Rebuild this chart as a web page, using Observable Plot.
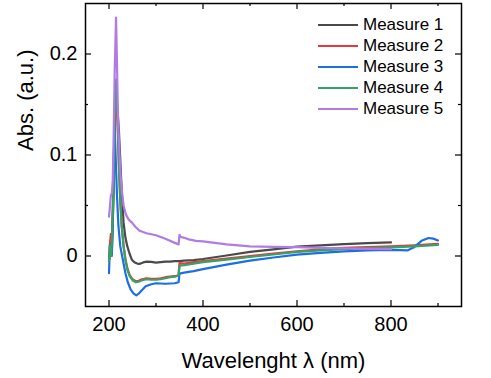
<!DOCTYPE html>
<html><head><meta charset="utf-8">
<script src="https://cdn.jsdelivr.net/npm/d3@7"></script>
<script src="https://cdn.jsdelivr.net/npm/@observablehq/plot@0.6"></script>
<style>
body{margin:0;background:#fff;font-family:"Liberation Sans",Arial,sans-serif;}
#wrap{position:relative;width:491px;height:378px;}
#legend{position:absolute;left:318px;top:14px;font-size:17px;color:#000;}
.row{height:21px;display:flex;align-items:center;white-space:nowrap;}
.sw{width:40px;height:2px;margin-right:5px;}
</style></head><body><div id="wrap"><div id="legend"></div></div>
<script>
const seriesNames = ["Measure 1","Measure 2","Measure 3","Measure 4","Measure 5"];
const seriesColors = ["#4a4a4a","#e8383d","#1c6fe3","#36a266","#b07be6"];

const m1Wl = [200,203,206,209,212,215,218,221,224,227,231,235,239,244,249,255,260,265,270,275,280,290,300,310,320,330,340,350,360,380,400,450,500,550,600,650,700,750,800];
const m1Abs = [-0.004,0.008,0.004,0.05,0.12,0.16,0.145,0.125,0.095,0.065,0.033,0.018,0.0095,0.002,-0.004,-0.0065,-0.0075,-0.0078,-0.007,-0.006,-0.0055,-0.0058,-0.0065,-0.006,-0.0056,-0.0055,-0.005,-0.005,-0.0045,-0.004,-0.003,0.0005,0.004,0.0065,0.0092,0.0106,0.0118,0.0127,0.0134];

const m2Wl = [200,202,204,206,209,212,215,218,221,224,227,231,235,239,244,250,257,263,270,280,290,300,310,320,330,340,348,350,360,380,400,450,500,550,600,650,700,750,800,850,900];
const m2Abs = [-0.003,0.012,0.022,0.012,0.06,0.13,0.165,0.135,0.09,0.055,0.03,0.01,-0.003,-0.012,-0.019,-0.023,-0.025,-0.0245,-0.023,-0.022,-0.0225,-0.0225,-0.022,-0.021,-0.0205,-0.02,-0.019,-0.007,-0.0075,-0.006,-0.005,-0.0025,0.0,0.0025,0.0045,0.0065,0.008,0.0088,0.0095,0.0105,0.012];

const m3Wl = [200,202,204,206,208,210,212,214,217,220,224,230,235,240,246,252,258,264,270,278,290,300,320,340,348,350,360,380,400,450,500,550,600,650,700,750,800,820,835,850,865,880,890,900];
const m3Abs = [-0.017,0.011,0.008,0.0,0.03,0.09,0.13,0.1,0.06,0.03,0.0095,-0.005,-0.017,-0.026,-0.033,-0.037,-0.039,-0.037,-0.034,-0.03,-0.028,-0.027,-0.0275,-0.027,-0.026,-0.0175,-0.0165,-0.015,-0.013,-0.0085,-0.0045,-0.0015,0.0013,0.003,0.0045,0.0055,0.006,0.0058,0.0055,0.009,0.015,0.0178,0.0172,0.0154];

const m4Wl = [200,202,204,206,209,212,215,218,221,224,227,231,235,239,244,250,257,263,270,280,290,300,310,320,330,340,348,350,360,380,400,450,500,550,600,650,700,750,800,850,900];
const m4Abs = [-0.005,0.01,0.0,0.012,0.06,0.14,0.175,0.14,0.092,0.055,0.03,0.0095,-0.004,-0.0135,-0.02,-0.024,-0.026,-0.0255,-0.024,-0.023,-0.0235,-0.0234,-0.023,-0.022,-0.021,-0.0205,-0.0195,-0.0096,-0.009,-0.0075,-0.006,-0.0035,-0.001,0.0015,0.004,0.0055,0.0068,0.0078,0.0085,0.0095,0.011];

const m5Wl = [200,202,204,206,208,210,212,215,217,219,221,224,227,231,236,242,249,256,265,280,300,320,340,348,350,352,360,370,385,400,425,450,475,500,550,600,650,700,750,800];
const m5Abs = [0.039,0.049,0.06,0.062,0.075,0.12,0.18,0.236,0.19,0.14,0.115,0.085,0.066,0.05,0.041,0.036,0.033,0.029,0.025,0.0225,0.0205,0.017,0.013,0.0115,0.021,0.019,0.018,0.0165,0.015,0.0145,0.013,0.0115,0.0105,0.0095,0.009,0.0088,0.008,0.0075,0.007,0.0068];

const xMajor = [200,400,600,800];
const xMinor = [300,500,700,900];
const yMajor = [0,0.1,0.2];
const yMinor = [0.05,0.15];
const xLabel = "Wavelenght λ (nm)";
const yLabel = "Abs. (a.u.)";

const wls = [m1Wl,m2Wl,m3Wl,m4Wl,m5Wl];
const abss = [m1Abs,m2Abs,m3Abs,m4Abs,m5Abs];

const W = 491, H = 378, mL = 85, mR = 30, mT = 3, mB = 72;
const fw = W - mL - mR, fh = H - mT - mB;

const lineMarks = seriesNames.map((name, i) =>
  Plot.line(wls[i].map((x, j) => ({x, y: abss[i][j]})), {x: "x", y: "y", stroke: seriesColors[i], strokeWidth: 2.2})
);

const plot = Plot.plot({
  width: W, height: H,
  marginLeft: mL, marginRight: mR, marginTop: mT, marginBottom: mB,
  style: {fontFamily: "Liberation Sans, Arial, sans-serif", fontSize: "20px", color: "#000", background: "#fff", overflow: "visible"},
  x: {domain: [150, 950]},
  y: {domain: [-0.05, 0.25]},
  marks: [
    ...lineMarks,
    Plot.tickX(xMajor, {x: d => d, stroke: "#000", strokeWidth: 1.2, insetTop: fh - 6}),
    Plot.tickX(xMinor, {x: d => d, stroke: "#000", strokeWidth: 1.2, insetTop: fh - 3}),
    Plot.tickX(xMajor, {x: d => d, stroke: "#000", strokeWidth: 1.2, insetBottom: fh - 6}),
    Plot.tickX(xMinor, {x: d => d, stroke: "#000", strokeWidth: 1.2, insetBottom: fh - 3}),
    Plot.tickY(yMajor, {y: d => d, stroke: "#000", strokeWidth: 1.2, insetRight: fw - 6}),
    Plot.tickY(yMinor, {y: d => d, stroke: "#000", strokeWidth: 1.2, insetRight: fw - 3}),
    Plot.tickY(yMajor, {y: d => d, stroke: "#000", strokeWidth: 1.2, insetLeft: fw - 6}),
    Plot.tickY(yMinor, {y: d => d, stroke: "#000", strokeWidth: 1.2, insetLeft: fw - 3}),
    Plot.axisX(xMajor, {tickSize: 0, tickPadding: 10, label: null, fontSize: 20}),
    Plot.axisY(yMajor, {tickSize: 0, tickPadding: 8, label: null, fontSize: 20, tickFormat: d => d === 0 ? "0" : String(d)}),
    Plot.frame({stroke: "#000", strokeWidth: 1.5}),
    Plot.text([xLabel], {frameAnchor: "bottom", lineAnchor: "bottom", dy: 61, fontSize: 22}),
    Plot.text([yLabel], {frameAnchor: "left", rotate: -90, dx: -60, dy: -4, fontSize: 22})
  ]
});
document.getElementById("wrap").prepend(plot);

const legend = document.getElementById("legend");
seriesNames.forEach((name, i) => {
  const row = document.createElement("div");
  row.className = "row";
  const sw = document.createElement("div");
  sw.className = "sw";
  sw.style.background = seriesColors[i];
  const t = document.createElement("span");
  t.textContent = name;
  row.append(sw, t);
  legend.append(row);
});
</script>
</body></html>
